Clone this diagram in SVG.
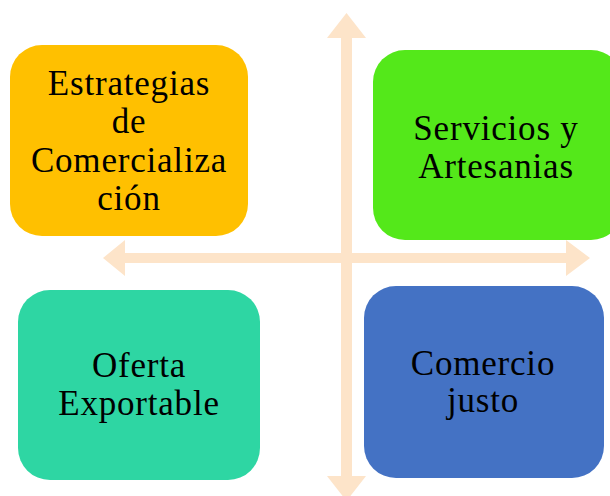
<svg xmlns="http://www.w3.org/2000/svg" width="610" height="496" viewBox="0 0 610 496">
<style>
.t{font-family:"Liberation Serif","Times New Roman",serif;font-size:35px;fill:#000;text-anchor:middle;letter-spacing:0.8px}
.arr{fill:#FDE4C9}
</style>
<rect width="610" height="496" fill="#fff"/>
<g id="connectors">
<polygon class="arr" points="346.5,13 366,38 352,38 352,476 366,476 346.5,501 327,476 341,476 341,38 327,38"/>
<polygon class="arr" points="103,258 125,240 125,253 566,253 566,240 590,258 566,276 566,263 125,263 125,276"/>
</g>
<g id="node-estrategias">
<rect x="10" y="45" width="238" height="191" rx="32" fill="#FFC000"/>
<text class="t" x="129" y="95">Estrategias</text>
<text class="t" x="129" y="133">de</text>
<text class="t" x="129" y="172">Comercializa</text>
<text class="t" x="129" y="210">ción</text>
</g>
<g id="node-servicios">
<rect x="373" y="50" width="250" height="190" rx="32" fill="#54E81A"/>
<text class="t" x="496" y="140">Servicios y</text>
<text class="t" x="496" y="178">Artesanias</text>
</g>
<g id="node-oferta">
<rect x="18" y="290" width="242" height="190" rx="32" fill="#2ED6A3"/>
<text class="t" x="139" y="377">Oferta</text>
<text class="t" x="139" y="415">Exportable</text>
</g>
<g id="node-comercio">
<rect x="364" y="286" width="240" height="192" rx="32" fill="#4472C4"/>
<text class="t" x="483" y="375">Comercio</text>
<text class="t" x="483" y="412">justo</text>
</g>
</svg>
